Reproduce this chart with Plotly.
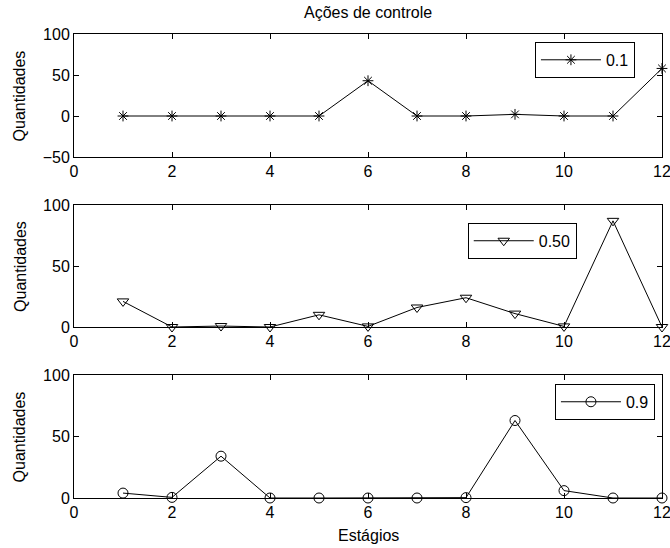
import plotly.graph_objects as go

estagios = list(range(1, 13))
q_01 = [0, 0, 0, 0, 0, 43, 0, 0, 2, 0, 0, 58]
q_050 = [21, 0, 0.8, 0, 10, 0.5, 16, 24, 11, 0.5, 87, 0]
q_09 = [4, 0.5, 34, 0, 0, 0, 0, 0.3, 63, 6, 0, 0]

labels = ["0.1", "0.50", "0.9"]
series = [q_01, q_050, q_09]
symbols = ["asterisk-open", "triangle-down-open", "circle-open"]
yranges = [[-50, 100], [0, 100], [0, 100]]
yticks = [[-50, 0, 50, 100], [0, 50, 100], [0, 50, 100]]
xticks = [0, 2, 4, 6, 8, 10, 12]

FONT = "Liberation Sans, Arial, sans-serif"
fig = go.Figure()

doms = [[0.7349, 1.0], [0.3685, 0.6315], [0.0, 0.2651]]
legpos = [(0.954, 0.983), (0.855, 0.593), (0.988, 0.246)]

for i in range(3):
    xa = "x" if i == 0 else f"x{i+1}"
    ya = "y" if i == 0 else f"y{i+1}"
    lg = "legend" if i == 0 else f"legend{i+1}"
    fig.add_trace(go.Scatter(
        x=estagios, y=series[i], mode="lines+markers", name=labels[i],
        xaxis=xa, yaxis=ya, legend=lg, cliponaxis=False,
        line=dict(color="black", width=1),
        marker=dict(symbol=symbols[i], size=9 if i == 0 else 10, color="black",
                    line=dict(color="black", width=1)),
    ))
    sfx = "" if i == 0 else str(i + 1)
    fig.update_layout(**{
        f"xaxis{sfx}": dict(
            domain=[0, 1], range=[0, 12], tickvals=xticks, anchor=ya,
            ticks="inside", ticklen=5, tickcolor="black", mirror="ticks",
            showline=True, linecolor="black", linewidth=1, automargin=False,
            showgrid=False, zeroline=False, ticklabeloverflow="allow",
            tickfont=dict(family=FONT, size=16, color="black"),
        ),
        f"yaxis{sfx}": dict(
            domain=doms[i], range=yranges[i], tickvals=yticks[i], anchor=xa,
            ticks="inside", ticklen=5, tickcolor="black", mirror="ticks",
            showline=True, linecolor="black", linewidth=1, automargin=False,
            showgrid=False, zeroline=False, ticklabeloverflow="allow",
            tickfont=dict(family=FONT, size=16, color="black"),
        ),
        lg: dict(
            x=legpos[i][0], y=legpos[i][1], xanchor="right", yanchor="top",
            xref="paper", yref="paper", itemwidth=60,
            bgcolor="white", bordercolor="black", borderwidth=1,
            font=dict(family=FONT, size=16, color="black"),
        ),
    })
    fig.add_annotation(
        text="Quantidades", textangle=-90, xref="paper", yref="paper",
        x=-0.092, y=(doms[i][0] + doms[i][1]) / 2, showarrow=False,
        xanchor="center", yanchor="middle",
        font=dict(family=FONT, size=16, color="black"),
    )

fig.add_annotation(
    text="Estágios", xref="paper", yref="paper", x=0.5, y=-0.08,
    showarrow=False, xanchor="center", yanchor="middle",
    font=dict(family=FONT, size=16, color="black"),
)
fig.add_annotation(
    text="Ações de controle", xref="paper", yref="paper", x=0.5, y=1.0,
    yshift=22, showarrow=False, xanchor="center", yanchor="middle",
    font=dict(family=FONT, size=16, color="black"),
)

fig.update_layout(
    width=670, height=548, showlegend=True,
    margin=dict(l=74, r=8, t=34, b=50, autoexpand=False),
    paper_bgcolor="white", plot_bgcolor="white",
)

fig.write_html("out.html")
